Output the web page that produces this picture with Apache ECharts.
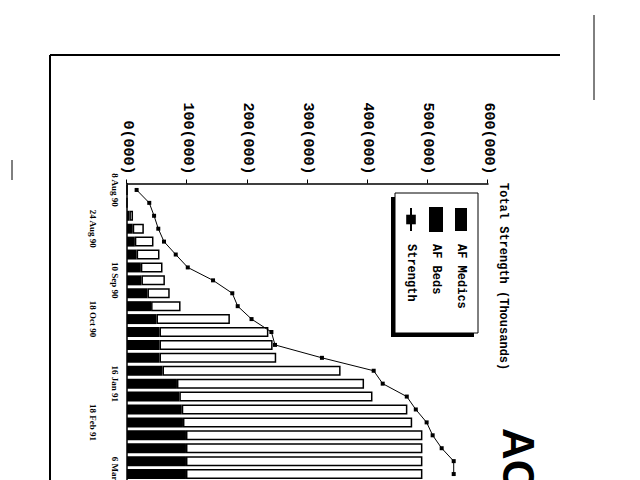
<!DOCTYPE html>
<html><head><meta charset="utf-8">
<script src="https://cdn.jsdelivr.net/npm/echarts@6/dist/echarts.min.js"></script>
<style>
html,body{margin:0;padding:0;width:640px;height:480px;overflow:hidden;background:#fff;}
#page{position:absolute;left:0;top:0;width:480px;height:640px;transform-origin:0 0;transform:translate(640px,0) rotate(90deg);background:#fff;}
</style></head><body>
<div id="page"></div>
<script>
// Date labels per category (blank = unlabelled category)
const dateLabels = ['8 Aug 90','','','24 Aug 90','','','','10 Sep 90','','','18 Oct 90','','','','','16 Jan 91','','','18 Feb 91','','','','6 Mar 91'];
// Values in thousands
const medics   = [0,0,4,9.5,13,16,23,24,34,40,49,54,54,54,59,83,87,91,93,98,98,98,98];
const beds     = [0,0,6,18.5,31,38,36,39,37,49,122,181,188,194,296,311,321,375,381,393,393,393,393];
const strength = [16,37,45,52,61.5,81,101,143,175,184,207,240,246,324,410,425,465,480,498,508,523,543,543];
const valueTicks = [0,100,200,300,400,500,600];
const seriesNames = ['AF Medics','AF Beds','Strength'];
const chartTitle = 'Total Strength (Thousands)';
const pageTitle = 'AC';

const MONO = '"Liberation Mono", "DejaVu Sans Mono", monospace';
const SERIF = '"Liberation Serif", serif';
const chart = echarts.init(document.getElementById('page'), null, {renderer:'svg', width:480, height:640});
const cats = dateLabels.map((_, i) => String(i));

chart.setOption({
  animation: false,
  backgroundColor: '#fff',
  title: {
    text: chartTitle, left: 183, top: 131, padding: 0,
    textStyle: {fontFamily: MONO, fontWeight: 'bold', fontSize: 12, color: '#000'}
  },
  legend: {
    orient: 'vertical', left: 193, top: 162, padding: [11,16,12,14],
    itemWidth: 23, itemHeight: 12, itemGap: 12, selectedMode: false, z: 10,
    data: [
      {name: seriesNames[0], icon: 'rect', itemStyle: {color: '#000', borderColor: '#000'}},
      {name: seriesNames[1], icon: 'rect', itemStyle: {color: '#000', borderColor: '#000'}},
      {name: seriesNames[2]}
    ],
    textStyle: {fontFamily: MONO, fontWeight: 'bold', fontSize: 12, color: '#000', padding: [0,0,0,8]}
  },
  grid: {left: 183.5, top: 152, bottom: 127, width: 297, containLabel: false, outerBoundsMode: 'none'},
  xAxis: {
    type: 'category', data: cats, position: 'bottom',
    axisLine: {lineStyle: {color: '#000', width: 1.5}},
    axisTick: {alignWithLabel: true, interval: 0, length: 5, lineStyle: {color: '#000', width: 1.5}},
    axisLabel: {
      interval: 0, margin: 8, color: '#000',
      fontFamily: SERIF, fontWeight: 'bold', fontSize: 9,
      formatter: (val, idx) => {
        const lab = dateLabels[idx];
        if (!lab) return '';
        const order = dateLabels.slice(0, idx).filter(Boolean).length;
        return order % 2 === 0 ? '{i|' + lab + '}' : '{o|' + lab + '}';
      },
      rich: {
        i: {fontFamily: SERIF, fontWeight: 'bold', fontSize: 9, color: '#000'},
        o: {fontFamily: SERIF, fontWeight: 'bold', fontSize: 9, color: '#000', padding: [22,0,0,0]}
      }
    },
    splitLine: {show: false}
  },
  yAxis: {
    type: 'value', min: valueTicks[0], max: valueTicks[valueTicks.length-1], interval: valueTicks[1]-valueTicks[0],
    axisLine: {show: true, lineStyle: {color: '#000', width: 1.5}},
    axisTick: {show: true, length: 4, lineStyle: {color: '#000', width: 1}},
    axisLabel: {margin: 9, color: '#000', fontFamily: MONO, fontWeight: 'bold', fontSize: 15,
      formatter: v => v + '(000)'},
    splitLine: {show: false}
  },
  series: [
    {name: seriesNames[0], type: 'bar', stack: 'a', data: medics, barWidth: 10,
     itemStyle: {color: '#000'}, z: 2},
    {name: seriesNames[1], type: 'bar', stack: 'a', data: beds, barWidth: 10,
     itemStyle: {color: '#fff', borderColor: '#000', borderWidth: 1.5}, z: 2},
    {name: seriesNames[2], type: 'line', data: strength, symbol: 'rect', symbolSize: 4,
     lineStyle: {color: '#000', width: 1}, itemStyle: {color: '#000'}, z: 5}
  ],
  graphic: [
    {type: 'rect', shape: {x: 197, y: 166, width: 140, height: 83}, style: {fill: '#000'}, z: 8},
    {type: 'rect', shape: {x: 193, y: 162, width: 140, height: 83}, style: {fill: '#fff', stroke: '#000', lineWidth: 1}, z: 9},
    {type: 'line', shape: {x1: 55, y1: 80, x2: 55, y2: 590}, style: {stroke: '#000', lineWidth: 2}},
    {type: 'line', shape: {x1: 55, y1: 590, x2: 482, y2: 590}, style: {stroke: '#000', lineWidth: 2}},
    {type: 'line', shape: {x1: 15, y1: 46, x2: 100, y2: 46}, style: {stroke: '#000', lineWidth: 1}},
    {type: 'line', shape: {x1: 160, y1: 628, x2: 180, y2: 628}, style: {stroke: '#000', lineWidth: 1}},
    {type: 'text', style: {text: pageTitle, x: 428, y: 100, font: 'bold 44px "Liberation Sans"', fill: '#000'}}
  ]
});
</script>
</body></html>
